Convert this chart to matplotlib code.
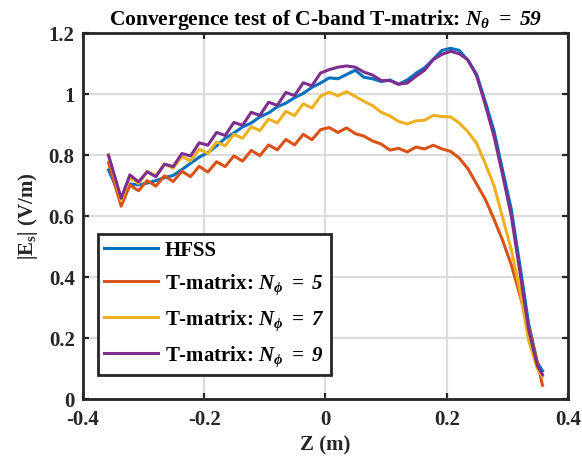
import numpy as np
import matplotlib
matplotlib.use('Agg')
import matplotlib.pyplot as plt

plt.rcParams['font.family'] = ['Liberation Serif', 'DejaVu Serif']
plt.rcParams['font.weight'] = 'bold'
plt.rcParams['axes.labelweight'] = 'bold'
plt.rcParams['axes.titleweight'] = 'bold'
plt.rcParams['mathtext.fontset'] = 'custom'
# math parts in the reference are bold italic (N_theta = 59 etc.)
plt.rcParams['mathtext.rm'] = 'Liberation Serif:italic:bold'
plt.rcParams['mathtext.it'] = 'Liberation Serif:italic:bold'
plt.rcParams['mathtext.bf'] = 'Liberation Serif:bold'

# sample positions along Z (m)
z = [-0.358, -0.337, -0.3227, -0.3084, -0.2941, -0.2798, -0.2655, -0.2512, -0.2369, -0.2226,
     -0.2083, -0.194, -0.1797, -0.1654, -0.1511, -0.1368, -0.1225, -0.1082, -0.0939, -0.0796,
     -0.0653, -0.051, -0.0367, -0.0224, -0.0081, 0.0062, 0.0205, 0.0348, 0.0491, 0.0634,
     0.0777, 0.092, 0.1063, 0.1206, 0.1349, 0.1492, 0.1635, 0.1778, 0.1921, 0.2064,
     0.2207, 0.235, 0.2493, 0.2636, 0.2779, 0.2922, 0.3065, 0.3208, 0.3351, 0.3494, 0.358]

hfss = [0.751, 0.658, 0.705, 0.702, 0.708, 0.716, 0.726, 0.733, 0.752, 0.773,
        0.793, 0.808, 0.830, 0.855, 0.872, 0.892, 0.905, 0.925, 0.938, 0.958,
        0.970, 0.988, 1.002, 1.022, 1.036, 1.053, 1.050, 1.064, 1.078, 1.055,
        1.050, 1.041, 1.046, 1.032, 1.046, 1.068, 1.086, 1.114, 1.143, 1.150,
        1.143, 1.110, 1.065, 0.975, 0.880, 0.750, 0.622, 0.437, 0.247, 0.120, 0.092]

nphi5 = [0.775, 0.632, 0.701, 0.683, 0.716, 0.698, 0.732, 0.713, 0.747, 0.729,
         0.763, 0.744, 0.778, 0.762, 0.797, 0.780, 0.815, 0.798, 0.833, 0.817,
         0.851, 0.833, 0.868, 0.850, 0.883, 0.890, 0.874, 0.889, 0.870, 0.862,
         0.846, 0.836, 0.816, 0.822, 0.810, 0.826, 0.820, 0.832, 0.820, 0.812,
         0.790, 0.755, 0.705, 0.655, 0.590, 0.520, 0.440, 0.340, 0.235, 0.120, 0.045]

nphi7 = [0.798, 0.650, 0.725, 0.707, 0.746, 0.732, 0.770, 0.757, 0.795, 0.781,
         0.819, 0.805, 0.843, 0.830, 0.868, 0.855, 0.893, 0.880, 0.918, 0.905,
         0.943, 0.929, 0.968, 0.954, 0.993, 1.006, 0.994, 1.008, 0.992, 0.976,
         0.962, 0.940, 0.928, 0.910, 0.902, 0.912, 0.914, 0.930, 0.926, 0.925,
         0.905, 0.876, 0.838, 0.772, 0.700, 0.595, 0.490, 0.355, 0.192, 0.100, 0.073]

nphi9 = [0.800, 0.658, 0.735, 0.712, 0.745, 0.729, 0.770, 0.762, 0.805, 0.797,
         0.840, 0.832, 0.874, 0.864, 0.907, 0.897, 0.940, 0.930, 0.973, 0.963,
         1.005, 0.995, 1.037, 1.027, 1.069, 1.080, 1.088, 1.092, 1.088, 1.072,
         1.062, 1.044, 1.044, 1.032, 1.036, 1.058, 1.078, 1.113, 1.130, 1.140,
         1.132, 1.112, 1.060, 0.965, 0.862, 0.735, 0.600, 0.415, 0.228, 0.110, 0.080]

labels = ['HFSS',
          r'T-matrix: $N_{\phi}\ =\ 5$',
          r'T-matrix: $N_{\phi}\ =\ 7$',
          r'T-matrix: $N_{\phi}\ =\ 9$']
colors = ['#0072BD', '#D95319', '#EDB120', '#7E2F8E']

xticks = [-0.4, -0.2, 0, 0.2, 0.4]
xticklabels = ['-0.4', '-0.2', '0', '0.2', '0.4']
yticks = [0, 0.2, 0.4, 0.6, 0.8, 1.0, 1.2]
yticklabels = ['0', '0.2', '0.4', '0.6', '0.8', '1', '1.2']

fig = plt.figure(figsize=(5.82, 4.65), dpi=100)
ax = fig.add_axes([0.1426, 0.1419, 0.8333, 0.7871])

for y, c, lab in zip([hfss, nphi5, nphi7, nphi9], colors, labels):
    ax.plot(z, y, color=c, lw=2.2, label=lab)

ax.set_xlim(-0.4, 0.4)
ax.set_ylim(0, 1.2)
ax.set_xticks(xticks)
ax.set_xticklabels(xticklabels)
ax.set_yticks(yticks)
ax.set_yticklabels(yticklabels)
ax.grid(True, color='#dcdcdc', lw=1.6)
ax.set_axisbelow(True)
ax.tick_params(direction='in', length=4, width=1.6, top=True, right=True,
               labelsize=15, colors='#262626')
ax.tick_params(axis='x', pad=8)
ax.tick_params(axis='y', pad=6)
for s in ax.spines.values():
    s.set_linewidth(2)
    s.set_color('#262626')

ax.set_xlabel('Z (m)', fontsize=15, color='#262626', labelpad=4)
ax.set_ylabel(r'$|\mathbf{E}_\mathbf{s}|$ (V/m)', fontsize=15, color='#262626', labelpad=6)
ax.set_title(r'Convergence test of C-band T-matrix: $N_{\theta}\ =\ 59$',
             fontsize=15.5, pad=6)

leg = ax.legend(loc='lower left', bbox_to_anchor=(0.031, 0.066), borderaxespad=0,
                fontsize=15, handlelength=2.6, handletextpad=0.3, fancybox=False,
                framealpha=1, edgecolor='#262626', borderpad=0.3, labelspacing=0.55)
leg.get_frame().set_linewidth(2)

fig.savefig('out.png', dpi=100)
